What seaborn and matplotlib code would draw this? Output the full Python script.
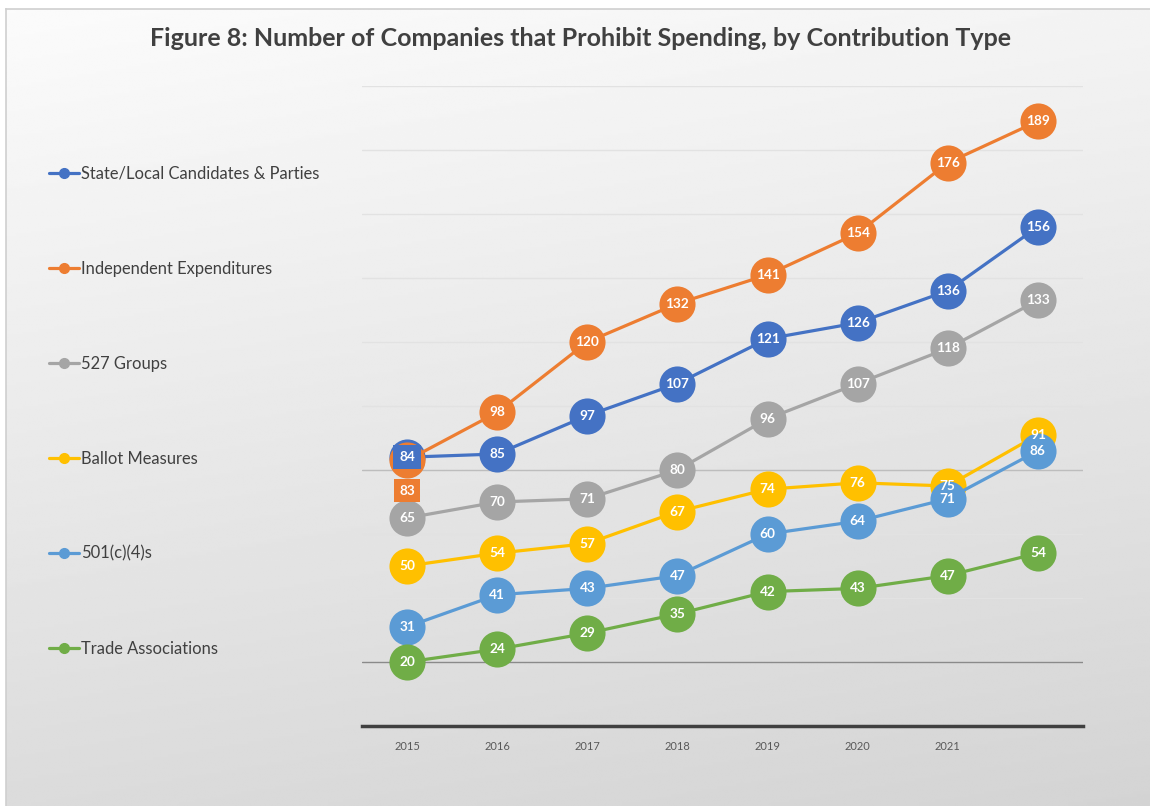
import numpy as np
import pandas as pd
import matplotlib
matplotlib.use("Agg")
import matplotlib.pyplot as plt
import seaborn as sns
from matplotlib.lines import Line2D

# ---------------- data ----------------
years = [2015, 2016, 2017, 2018, 2019, 2020, 2021, 2022]
tick_labels = ["2015", "2016", "2017", "2018", "2019", "2020", "2021", ""]
series_names = [
    "State/Local Candidates & Parties",
    "Independent Expenditures",
    "527 Groups",
    "Ballot Measures",
    "501(c)(4)s",
    "Trade Associations",
]
state_local = [84, 85, 97, 107, 121, 126, 136, 156]
independent = [83, 98, 120, 132, 141, 154, 176, 189]
groups_527 = [65, 70, 71, 80, 96, 107, 118, 133]
ballot = [50, 54, 57, 67, 74, 76, 75, 91]
c4 = [31, 41, 43, 47, 60, 64, 71, 86]
trade = [20, 24, 29, 35, 42, 43, 47, 54]
colors = ["#4472C4", "#ED7D31", "#A5A5A5", "#FFC000", "#5B9BD5", "#70AD47"]
title = "Figure 8: Number of Companies that Prohibit Spending, by Contribution Type"

all_series = [state_local, independent, groups_527, ballot, c4, trade]
rows = []
for name, vals in zip(series_names, all_series):
    for i, v in enumerate(vals):
        rows.append({"idx": i, "year": years[i], "value": v, "series": name})
df = pd.DataFrame(rows)

sns.set_theme(style="white")
plt.rcParams["font.family"] = ["Lato", "DejaVu Sans"]

W, H = 1150, 806
fig = plt.figure(figsize=(W / 100, H / 100), dpi=100)
fig.patch.set_facecolor("white")

# background gradient panel
bg = fig.add_axes([6 / W, 0, 1 - 6 / W, 1 - 9 / H], zorder=0)
xx, yy = np.meshgrid(np.linspace(0, 1, 300), np.linspace(0, 1, 300))
vals = 0.985 - 0.125 * yy - 0.03 * xx
bg.imshow(vals, cmap="gray", vmin=0, vmax=1, aspect="auto",
          extent=[0, 1, 0, 1], origin="upper", interpolation="bilinear")
bg.set_xticks([]); bg.set_yticks([])
for s in ["right", "bottom"]:
    bg.spines[s].set_visible(False)
for s in ["left", "top"]:
    bg.spines[s].set_color("#cfcfcf")
    bg.spines[s].set_linewidth(1.2)

# main axes
ax = fig.add_axes([362 / W, 1 - 726 / H, (1083 - 362) / W, (726 - 86) / H], zorder=1)
ax.set_facecolor("none")
ax.set_ylim(0, 200)
ax.set_xlim(-0.5, 7.5)
ax.set_yticks(range(0, 201, 20))
ax.set_yticklabels([])
ax.yaxis.grid(True, color="#e2e2e2", lw=1)
ax.tick_params(axis="both", length=0)
ax.axhline(80, color="#bdbdbd", lw=1, zorder=1)
ax.axhline(20, color="#8a8a8a", lw=1, zorder=1)

sns.lineplot(data=df, x="idx", y="value", hue="series", hue_order=series_names,
             palette=colors, marker="o", markersize=26, markeredgewidth=0,
             linewidth=2.3, legend=False, ax=ax, sort=False, zorder=3)

# data labels
for si, (name, vals_s) in enumerate(zip(series_names, all_series)):
    for i, v in enumerate(vals_s):
        kw = dict(ha="center", va="center", color="white", fontsize=9.8,
                  fontweight="bold", zorder=10)
        if si == 0 and i == 0:
            ax.text(i, v, str(v), bbox=dict(boxstyle="square,pad=0.45",
                                            fc=colors[0], ec="none"), **kw)
        elif si == 1 and i == 0:
            ax.text(i, v - 9.5, str(v), bbox=dict(boxstyle="square,pad=0.4",
                                                  fc=colors[1], ec="none"), **kw)
        else:
            ax.text(i, v, str(v), **kw)

for s in ["left", "right", "top"]:
    ax.spines[s].set_visible(False)
ax.spines["bottom"].set_color("#404040")
ax.spines["bottom"].set_linewidth(2.5)
ax.set_xticks(range(len(years)))
ax.set_xticklabels(tick_labels, fontsize=8, color="#595959")
ax.tick_params(axis="x", pad=11)
ax.set_xlabel("")
ax.set_ylabel("")

# legend
handles = [Line2D([0], [0], color=c, lw=2.3, marker="o", markersize=7) for c in colors]
leg = fig.legend(handles, series_names, loc="upper left",
                 bbox_to_anchor=(42 / W, 1 - 159 / H), frameon=False,
                 fontsize=11.9, labelspacing=4.78, handlelength=1.85,
                 handletextpad=0.1, borderaxespad=0)
for t in leg.get_texts():
    t.set_color("#404040")

fig.text(0.5045, 1 - 38 / H, title, ha="center", va="center", fontsize=18,
         fontweight="bold", color="#404040")

fig.savefig("out.png", dpi=100)
